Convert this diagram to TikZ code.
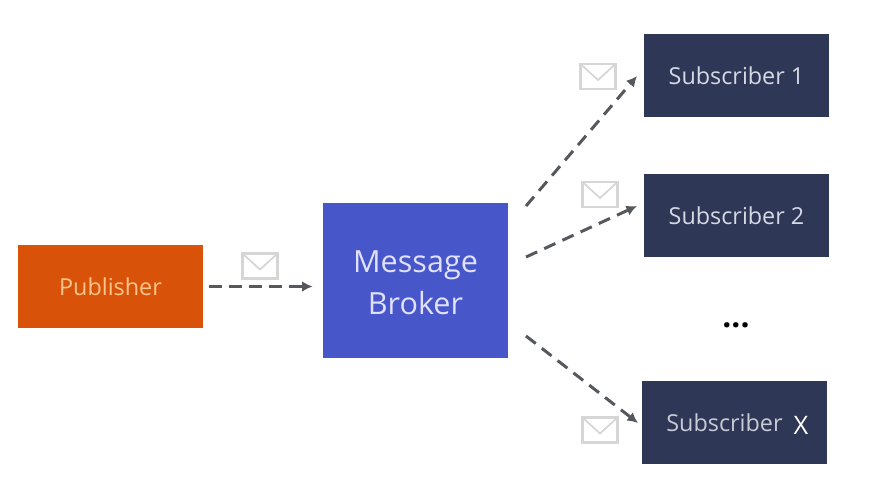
\documentclass[tikz,border=0pt]{standalone}
\usepackage{fontspec}
\setmainfont{Open Sans}
\usetikzlibrary{arrows.meta}
\definecolor{pubfill}{HTML}{D9520A}
\definecolor{brokerfill}{HTML}{4756C9}
\definecolor{subfill}{HTML}{2F3757}
\definecolor{subtext}{HTML}{D5D9E4}
\definecolor{flowgray}{HTML}{55585C}
\definecolor{mailgray}{HTML}{D6D6D6}
\tikzset{
	box/.style={minimum width=3.7cm, minimum height=1.66cm, inner sep=0pt, align=center},
	subbox/.style={box, fill=subfill, text=subtext, font=\fontsize{13.3}{16}\selectfont},
	flow/.style={flowgray, line width=1.7pt, dash pattern=on 7pt off 4.4pt, -{Latex[length=6pt,width=6pt]}},
	mail/.style={draw=mailgray, line width=1.2pt, minimum width=0.7cm, minimum height=0.5cm, inner sep=0pt,
		path picture={\draw[mailgray, line width=1pt] (path picture bounding box.north west) -- ([yshift=-0.07cm]path picture bounding box.center) -- (path picture bounding box.north east);}},
}
\begin{document}
\begin{tikzpicture}[x=0.02cm, y=-0.02cm]
	\useasboundingbox (0,0) rectangle (873,498);
	\node[box, fill=pubfill, text=orange!45!white, font=\fontsize{13.3}{16}\selectfont] (pub) at (110.5,286.5) {Publisher};
	\node[box, fill=brokerfill, text=blue!12!white, minimum height=3.1cm, font=\fontsize{17.4}{24}\selectfont] (broker) at (415.5,280.5) {\rule{0pt}{14.7pt}Message\\Broker};
	\node[subbox] (sub1) at (736.5,75.5) {Subscriber 1};
	\node[subbox] (sub2) at (736.5,215.5) {Subscriber 2};
	\node[box, fill=subfill] (subx) at (734.5,422.5) {};
	\node[text=subtext!85!gray, font=\fontsize{13.3}{16}\selectfont] (subxlabel) at (724.5,423) {Subscriber};
	\node[text=white, font=\fontsize{14.5}{16}\selectfont] (subxmark) at (801,425) {X};
	\node[font=\bfseries\fontsize{18}{14}\selectfont] (dots) at (736,325) {...};
	% envelopes
	\foreach \name/\x/\y in {mail0/260/266, mail1/598/76.5, mail2/600/194.5, mail3/600/430}
		\node[mail] (\name) at (\x,\y) {};
	% free ends of the connectors
	\coordinate (out1) at (526,206);
	\coordinate (out2) at (526,257);
	\coordinate (out3) at (526,336);
	\coordinate (in1) at (637,76);
	\coordinate (in2) at (637,206);
	\coordinate (in3) at (638,423);
	\draw[flow, shorten <=0.12cm, shorten >=0.2cm] (pub) -- (broker.west |- pub);
	\foreach \i in {1,2,3}
		\draw[flow] (out\i) -- (in\i);
\end{tikzpicture}
\end{document}
